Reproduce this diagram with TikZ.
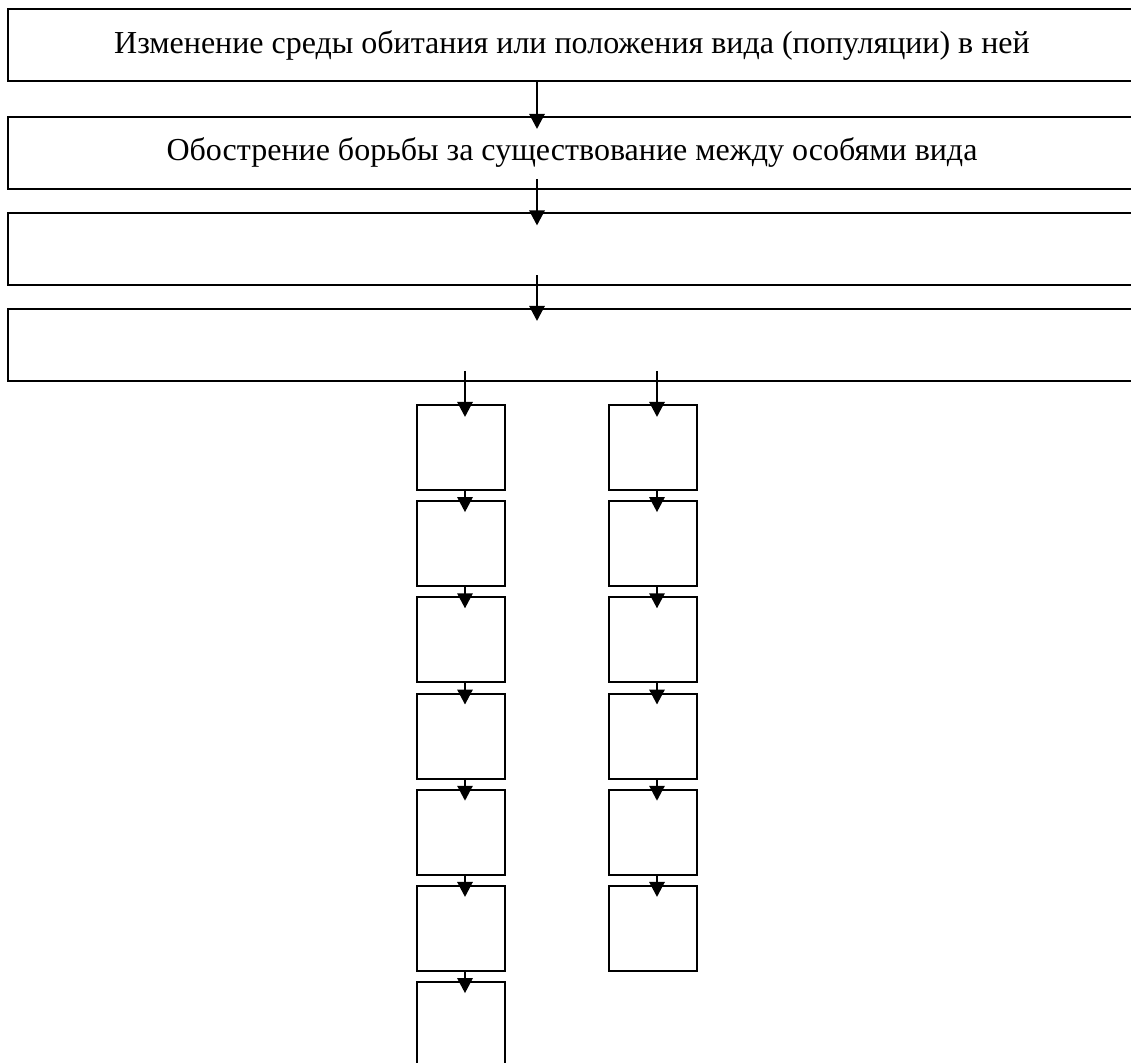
\documentclass[tikz,border=0pt]{standalone}
\usepackage{fontspec}
\setmainfont{Liberation Serif}
\usetikzlibrary{arrows.meta}

\begin{document}
\begin{tikzpicture}[x=0.5pt, y=-0.5pt,
    wide/.style={draw, line width=1pt, minimum width=564pt, minimum height=36pt, inner sep=0pt, align=center,
        font=\fontsize{16}{19}\selectfont},
    cell/.style={draw, line width=1pt, minimum width=44pt, minimum height=42.5pt, inner sep=0pt},
    arrow/.style={-{Triangle[width=7.5pt, length=7.5pt]}, line width=1.4pt}
]
    % Page frame
    \clip (0,0) rectangle (1131,1063);

    % Top chain
    \node[wide] (habitat) at (572,45.5) {Изменение среды обитания или положения вида (популяции) в ней};
    \node[wide] (struggle) at (572,153) {Обострение борьбы за существование между особями вида};
    \node[wide] (stage3) at (572,249.5) {};
    \node[wide] (stage4) at (572,345) {};

    % Arrow columns
    \coordinate (colM) at (537,0);
    \coordinate (colL) at (465,0);
    \coordinate (colR) at (657,0);

    % Arrows between top boxes
    \draw[arrow] (habitat.south -| colM) -- ([yshift=-6.5pt]struggle.north -| colM);
    \draw[arrow] ([yshift=5.5pt]struggle.south -| colM) -- ([yshift=-6.5pt]stage3.north -| colM);
    \draw[arrow] ([yshift=5.5pt]stage3.south -| colM) -- ([yshift=-6.5pt]stage4.north -| colM);

    % Left column
    \node[cell] (l1) at (461,447.5) {};
    \node[cell] (l2) at (461,543.7) {};
    \node[cell] (l3) at (461,639.9) {};
    \node[cell] (l4) at (461,736.1) {};
    \node[cell] (l5) at (461,832.3) {};
    \node[cell] (l6) at (461,928.5) {};
    \node[cell] (l7) at (461,1024.7) {};

    % Right column
    \node[cell] (r1) at (653,447.5) {};
    \node[cell] (r2) at (653,543.7) {};
    \node[cell] (r3) at (653,639.9) {};
    \node[cell] (r4) at (653,736.1) {};
    \node[cell] (r5) at (653,832.3) {};
    \node[cell] (r6) at (653,928.5) {};

    % Arrows into the columns
    \draw[arrow] ([yshift=5.5pt]stage4.south -| colL) -- ([yshift=-6.5pt]l1.north -| colL);
    \draw[arrow] ([yshift=5.5pt]stage4.south -| colR) -- ([yshift=-6.5pt]r1.north -| colR);

    % Arrows down the left column
    \draw[arrow] (l1.south -| colL) -- ([yshift=-6pt]l2.north -| colL);
    \draw[arrow] (l2.south -| colL) -- ([yshift=-6pt]l3.north -| colL);
    \draw[arrow] (l3.south -| colL) -- ([yshift=-6pt]l4.north -| colL);
    \draw[arrow] (l4.south -| colL) -- ([yshift=-6pt]l5.north -| colL);
    \draw[arrow] (l5.south -| colL) -- ([yshift=-6pt]l6.north -| colL);
    \draw[arrow] (l6.south -| colL) -- ([yshift=-6pt]l7.north -| colL);

    % Arrows down the right column
    \draw[arrow] (r1.south -| colR) -- ([yshift=-6pt]r2.north -| colR);
    \draw[arrow] (r2.south -| colR) -- ([yshift=-6pt]r3.north -| colR);
    \draw[arrow] (r3.south -| colR) -- ([yshift=-6pt]r4.north -| colR);
    \draw[arrow] (r4.south -| colR) -- ([yshift=-6pt]r5.north -| colR);
    \draw[arrow] (r5.south -| colR) -- ([yshift=-6pt]r6.north -| colR);
\end{tikzpicture}
\end{document}
